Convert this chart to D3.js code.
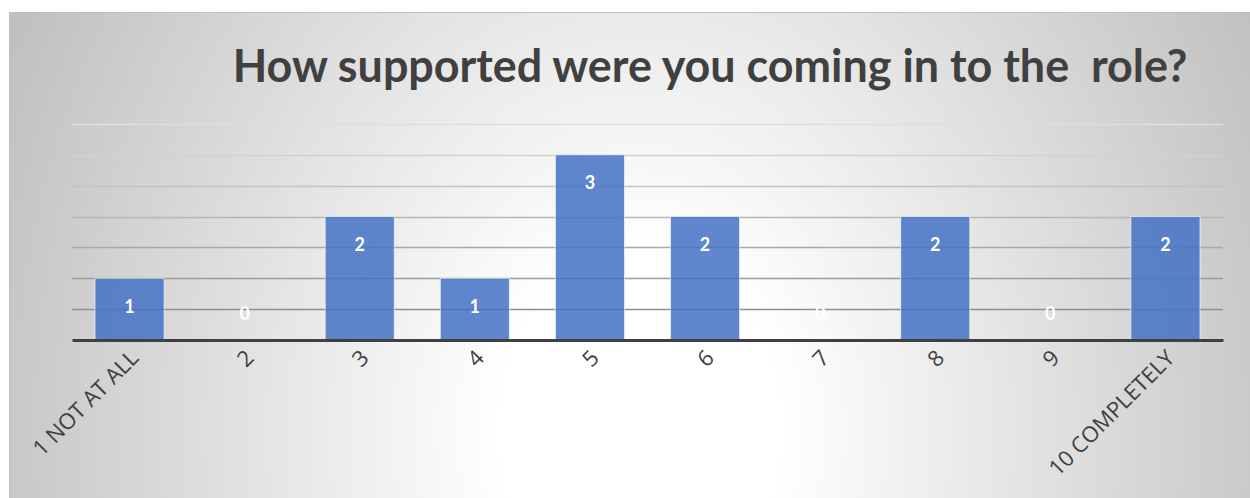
<!DOCTYPE html>
<html>
<head>
<meta charset="utf-8">
<script src="https://cdn.jsdelivr.net/npm/d3@7"></script>
<style>
html,body{margin:0;padding:0;background:#fff;}
svg{display:block;}
</style>
</head>
<body>
<svg id="chart" width="1250" height="498"></svg>
<script>
const title = "How supported were you coming in to the  role?";
const categories = ["1 NOT AT ALL","2","3","4","5","6","7","8","9","10 COMPLETELY"];
const values = [1,0,2,1,3,2,0,2,0,2];
const gridTicks = [0.5,1,1.5,2,2.5,3,3.5];

const W = 1250, H = 498;
const svg = d3.select("#chart");
const defs = svg.append("defs");

const rg = defs.append("radialGradient")
  .attr("id","bg")
  .attr("gradientUnits","userSpaceOnUse")
  .attr("cx",640).attr("cy",430).attr("r",700)
  .attr("gradientTransform","translate(640,430) scale(1,1.26) translate(-640,-430)");
rg.append("stop").attr("offset","0").attr("stop-color","#ffffff");
rg.append("stop").attr("offset","0.2").attr("stop-color","#ffffff");
rg.append("stop").attr("offset","1").attr("stop-color","#c0c0c0");

svg.append("rect").attr("x",9.5).attr("y",12.5).attr("width",W).attr("height",H)
  .attr("fill","url(#bg)").attr("stroke","#bfbfbf").attr("stroke-width",1);

const plot = {left:72, right:1223, top:124, bottom:340};

const x = d3.scaleBand().domain(categories).range([plot.left, plot.right]).paddingInner(0.4).paddingOuter(0.2);
const y = d3.scaleLinear().domain([0,3.5]).range([plot.bottom, plot.top]);

const gridColor = d3.scaleLinear().domain([0.5,3.5]).range(["#8e8e8e","#dedede"]);

// gridlines
svg.append("g").selectAll("line").data(gridTicks).join("line")
  .attr("x1",plot.left).attr("x2",plot.right)
  .attr("y1",d=>Math.round(y(d))+0.5).attr("y2",d=>Math.round(y(d))+0.5)
  .attr("stroke",d=>gridColor(d)).attr("stroke-width",1.5);

// bars
svg.append("g").selectAll("rect").data(values).join("rect")
  .attr("x",(d,i)=>x(categories[i]))
  .attr("y",d=>y(d))
  .attr("width",x.bandwidth())
  .attr("height",d=>y(0)-y(d))
  .attr("fill","#4472c4").attr("fill-opacity",0.85)
  .attr("stroke","#ffffff").attr("stroke-opacity",0.6).attr("stroke-width",1);

// baseline axis
const xAxis = d3.axisBottom(x).tickSize(0).tickPadding(0);
const ax = svg.append("g").attr("transform",`translate(0,${plot.bottom})`).call(xAxis);
ax.select(".domain").attr("stroke","#404040").attr("stroke-width",3);
ax.selectAll(".tick text")
  .style("font-family","'Open Sans', sans-serif")
  .style("font-size","22px")
  .attr("fill","#404040")
  .attr("text-anchor","end")
  .attr("dy","0.35em")
  .attr("transform","translate(5,14) rotate(-45)")
  .attr("y",0).attr("x",0);

// data labels
svg.append("g").selectAll("text").data(values).join("text")
  .attr("x",(d,i)=>x(categories[i])+x.bandwidth()/2)
  .attr("y",d=> d>0 ? y(d)+28 : y(0)-26)
  .attr("dy","0.35em")
  .attr("text-anchor","middle")
  .attr("font-family","Lato, 'Open Sans', sans-serif")
  .attr("font-weight","bold")
  .attr("font-size",18)
  .attr("fill","#ffffff")
  .text(d=>d);

// title
const t = svg.append("text")
  .attr("x",710).attr("y",82)
  .attr("text-anchor","middle")
  .attr("font-family","Lato, 'Open Sans', sans-serif")
  .attr("font-weight","bold")
  .attr("font-size",40)
  .attr("fill","#404040")
  .style("white-space","pre")
  .attr("xml:space","preserve")
  .text(title);
const w = t.node().getComputedTextLength();
t.attr("font-size", 40*955/w);
</script>
</body>
</html>
